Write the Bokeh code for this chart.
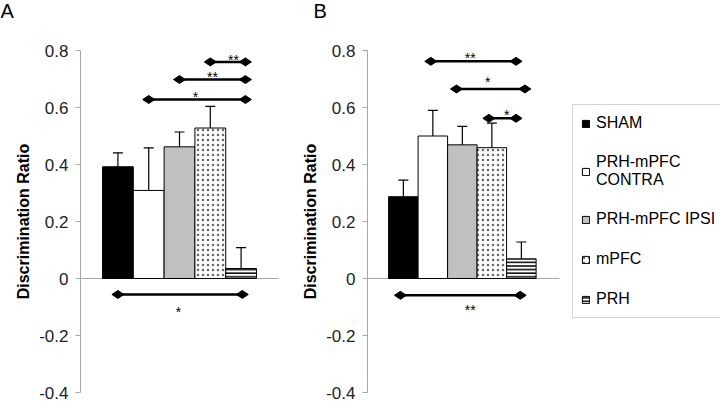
from math import pi
from bokeh.plotting import figure
from bokeh.layouts import row, column
from bokeh.models import (Range1d, ColumnDataSource, Whisker, TeeHead, FixedTicker,
                          Legend, LegendItem)
from bokeh.embed import file_html
from bokeh.resources import INLINE
from bokeh.core.properties import value

# ---------------- data ----------------
panel_letters = ["A", "B"]
groups = ["SHAM", "PRH-mPFC\nCONTRA", "PRH-mPFC IPSI", "mPFC", "PRH"]
bar_x = [0, 1, 2, 3, 4]

a_means = [0.392, 0.309, 0.462, 0.528, 0.035]
a_errs = [0.049, 0.149, 0.052, 0.076, 0.073]
b_means = [0.287, 0.500, 0.469, 0.459, 0.069]
b_errs = [0.058, 0.090, 0.065, 0.086, 0.059]

# significance brackets (start group, end group, height, label)
a_sig_start = [1, 2, 3, 0]
a_sig_end = [4.14, 4.14, 4.14, 4.04]
a_sig_y = [0.628, 0.698, 0.760, -0.056]
a_sig_label = ["*", "**", "**", "*"]
a_star_x = [2.52, 3.07, 3.75, 1.97]
a_star_y = [0.638, 0.707, 0.766, -0.119]

b_sig_start = [0.93, 1.80, 2.90, -0.10]
b_sig_end = [3.82, 4.12, 3.82, 3.96]
b_sig_y = [0.762, 0.665, 0.562, -0.059]
b_sig_label = ["**", "*", "*", "**"]
b_star_x = [2.27, 2.86, 3.50, 2.27]
b_star_y = [0.775, 0.689, 0.575, -0.111]

tick_vals = [-0.4, -0.2, 0, 0.2, 0.4, 0.6, 0.8]
tick_labels = ["-0.4", "-0.2", "0", "0.2", "0.4", "0.6", "0.8"]

# ---------------- styles ----------------
fills = ["black", "white", "#c0c0c0", "white", "white"]
hatches = [" ", " ", " ", ".", "-"]
hatch_colors = ["black", "black", "black", "#666666", "#111111"]
hatch_scales = [5, 5, 5, 5, 3.6]
hatch_weights = [1, 1, 1, 0.5, 1.6]

FONT = "Liberation Sans"
AXIS_GRAY = "#a6a6a6"
HEADER_H = 22
H = 403 - HEADER_H
TOP, BOTTOM = 28, 11

# header strip holding the panel letters (x in pixels of the page width)
header = figure(width=720, height=HEADER_H, x_range=Range1d(0, 720),
                y_range=Range1d(0, HEADER_H), output_backend="svg",
                toolbar_location=None, x_axis_location=None,
                y_axis_location=None, min_border=0)
header.grid.visible = False
header.outline_line_color = None
header.text(x=[0, 313], y=[12, 12], text=panel_letters, text_font=value(FONT),
            text_font_size="20px", text_align="left", text_baseline="middle",
            text_color="black")


def make_panel(means, errs, s_start, s_end, s_y, s_lab, st_x, st_y,
               width, border_left, border_right, x_end, zero_end):
    p = figure(width=width, height=H, x_range=Range1d(-1.215, x_end),
               y_range=Range1d(-0.4, 0.8), output_backend="svg",
               toolbar_location=None, x_axis_location=None,
               min_border_left=border_left, min_border_right=border_right,
               min_border_top=TOP, min_border_bottom=BOTTOM)
    p.grid.visible = False
    p.outline_line_color = None
    p.background_fill_color = "white"
    p.border_fill_color = "white"

    ax = p.yaxis[0]
    ax.ticker = FixedTicker(ticks=tick_vals)
    ax.major_label_overrides = dict(zip(tick_vals, tick_labels))
    ax.axis_line_color = AXIS_GRAY
    ax.major_tick_line_color = AXIS_GRAY
    ax.major_tick_out = 5
    ax.major_tick_in = 0
    ax.minor_tick_line_color = None
    ax.major_label_text_font = FONT
    ax.major_label_text_font_size = "17px"
    ax.major_label_text_color = "#222222"
    ax.major_label_standoff = 7
    ax.axis_label = "Discrimination Ratio"
    ax.axis_label_text_font = FONT
    ax.axis_label_text_font_size = "16px"
    ax.axis_label_text_font_style = "bold"
    ax.axis_label_text_color = "black"
    ax.axis_label_standoff = 4

    # zero line (category axis)
    p.segment(x0=[-1.215], x1=[zero_end], y0=[0], y1=[0],
              line_color=AXIS_GRAY, line_width=1)

    src = ColumnDataSource(dict(
        x=bar_x, top=means, upper=[m + e for m, e in zip(means, errs)],
        fill=fills, hatch=hatches, hcolor=hatch_colors, hscale=hatch_scales,
        hweight=hatch_weights, label=groups))
    bars = p.vbar(x="x", top="top", bottom=0, width=1, source=src,
                  fill_color="fill", line_color="black", line_width=1,
                  hatch_pattern="hatch", hatch_color="hcolor",
                  hatch_scale="hscale", hatch_weight="hweight")

    wh = Whisker(source=src, base="x", upper="upper", lower="top",
                 dimension="height", line_color="black", line_width=1.2,
                 upper_head=TeeHead(size=10, line_color="black", line_width=1.2),
                 lower_head=None, level="glyph")
    p.add_layout(wh)

    p.segment(x0=s_start, x1=s_end, y0=s_y, y1=s_y, line_color="black",
              line_width=2.5)
    p.scatter(x=s_start + s_end, y=s_y + s_y, marker="diamond", size=12,
              angle=pi / 2, fill_color="black", line_color="black")
    p.text(x=st_x, y=st_y, text=s_lab, text_font=value(FONT),
           text_font_size="14px", text_align="center",
           text_baseline="middle", text_color="black")
    return p, bars


pA, barsA = make_panel(a_means, a_errs, a_sig_start, a_sig_end, a_sig_y,
                       a_sig_label, a_star_x, a_star_y,
                       width=280, border_left=80, border_right=2,
                       x_end=5.215, zero_end=5.215)
pB, barsB = make_panel(b_means, b_errs, b_sig_start, b_sig_end, b_sig_y,
                       b_sig_label, b_star_x, b_star_y,
                       width=440, border_left=87, border_right=0,
                       x_end=10.75, zero_end=5.29)

legend = Legend(items=[LegendItem(label=g, renderers=[barsB], index=i)
                       for i, g in enumerate(groups)],
                location=(205, 74), margin=0, padding=8, spacing=20,
                label_height=20, glyph_width=9, glyph_height=9,
                label_standoff=6, label_text_font=FONT,
                label_text_font_size="16px", label_text_color="black",
                border_line_color=AXIS_GRAY, border_line_width=1,
                background_fill_color="white", background_fill_alpha=1.0)
pB.add_layout(legend)

layout = column(header, row(pA, pB))
open("out.html", "w").write(file_html(layout, INLINE))
